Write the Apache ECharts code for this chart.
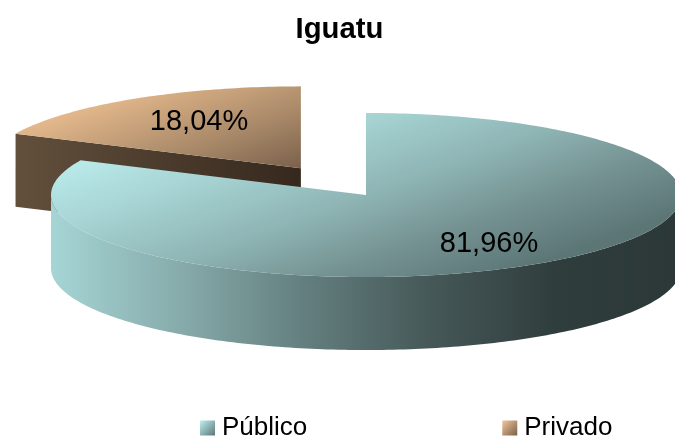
<!DOCTYPE html>
<html>
<head>
  <meta charset="utf-8">
  <title>Iguatu</title>
  <script src="https://cdn.jsdelivr.net/npm/echarts@6/dist/echarts.min.js"></script>
  <style>
    body { margin: 0; padding: 0; background: #fff; }
    #main { width: 675px; height: 438px; }
  </style>
</head>
<body>
<div id="main"></div>
<script>
  var titleText = 'Iguatu';
  var categories = ['Público', 'Privado'];
  var values = [81.96, 18.04];

  // 饼图的透视参数
  var cx = 366, cy = 195, rx = 315, ry = 82, depth = 73;
  var explode = [0, 0.385];
  var labelOffset = [[123, 49], [-167, -73]];

  function linear(x, y, x2, y2, stops, global) {
    return {
      type: 'linear', x: x, y: y, x2: x2, y2: y2, global: !!global,
      colorStops: stops.map(function (c, i) {
        return {offset: i / (stops.length - 1), color: c};
      })
    };
  }

  // 顶面用画布坐标的渐变，方向不随图形外框变形
  var topColors = [
    linear(80, 165, 166, 400, ['#b8e8e8', '#a4d0d0', '#8fb5b5', '#759292', '#5c7676'], true),
    linear(60, 115, 112, 255, ['#e4b88c', '#ab8b6a', '#6e5644'], true)
  ];
  var wallColors = [
    linear(0, 0, 1, 0, ['#a6d5d5', '#88acac', '#647f7f', '#465858', '#303d3d', '#2c3838']),
    linear(0, 0, 1, 0, ['#62503c', '#36281e'])
  ];
  var legendColors = [
    linear(0, 0, 1, 1, ['#bff0f0', '#5c7676']),
    linear(0, 0, 1, 1, ['#f2c79c', '#7a6048'])
  ];

  var total = values.reduce(function (a, b) { return a + b; }, 0);

  function makeSlice(index) {
    var startDeg = 0;
    for (var i = 0; i < index; i++) {
      startDeg += values[i] / total * 360;
    }
    var endDeg = startDeg + values[index] / total * 360;
    var midRad = (startDeg + endDeg) / 2 * Math.PI / 180;
    var ox = cx + Math.sin(midRad) * rx * explode[index];
    var oy = cy - Math.cos(midRad) * ry * explode[index];

    function rim(deg, dy) {
      var r = deg * Math.PI / 180;
      return [ox + Math.sin(r) * rx, oy - Math.cos(r) * ry + (dy || 0)];
    }

    function arc(from, to, dy) {
      var pts = [];
      for (var d = from; d < to; d += 1) {
        pts.push(rim(d, dy));
      }
      pts.push(rim(to, dy));
      return pts;
    }

    function polygon(points, fill) {
      return {type: 'polygon', shape: {points: points}, style: {fill: fill}};
    }

    function cutFace(deg) {
      var p = rim(deg);
      return polygon([[ox, oy], p, [p[0], p[1] + depth], [ox, oy + depth]], wallColors[index]);
    }

    return function (params, api) {
      var children = [];
      var sinStart = Math.sin(startDeg * Math.PI / 180);
      var sinEnd = Math.sin(endDeg * Math.PI / 180);
      if (sinStart < -0.001) {
        children.push(cutFace(startDeg));
      }
      if (sinEnd > 0.001) {
        children.push(cutFace(endDeg));
      }
      // 外侧面只画朝向观察者的 90°~270° 部分
      var wallFrom = Math.max(startDeg, 90);
      var wallTo = Math.min(endDeg, 270);
      if (wallFrom < wallTo) {
        var upper = arc(wallFrom, wallTo, 0);
        var lower = arc(wallFrom, wallTo, depth).reverse();
        children.push(polygon(upper.concat(lower), wallColors[index]));
      }
      // 顶面
      children.push(polygon([[ox, oy]].concat(arc(startDeg, endDeg, 0)), topColors[index]));
      children.push({
        type: 'text',
        z2: 10,
        style: {
          text: api.value(0).toFixed(2).replace('.', ',') + '%',
          x: cx + labelOffset[index][0],
          y: cy + labelOffset[index][1],
          align: 'center',
          verticalAlign: 'middle',
          fill: '#000',
          font: '29px "Liberation Sans", Arial, sans-serif'
        }
      });
      return {type: 'group', children: children};
    };
  }

  var chart = echarts.init(document.getElementById('main'));
  chart.setOption({
    animation: false,
    title: {
      text: titleText,
      left: 290.5,
      top: 10,
      textStyle: {
        color: '#000',
        fontSize: 29.3,
        fontWeight: 'bold',
        fontFamily: '"Liberation Sans", Arial, sans-serif'
      }
    },
    legend: {
      left: 200,
      top: 415,
      padding: 0,
      itemWidth: 15,
      itemHeight: 15,
      itemGap: 195,
      icon: 'rect',
      textStyle: {
        color: '#000',
        fontSize: 26,
        padding: [0, 0, 0, 2],
        fontFamily: '"Liberation Sans", Arial, sans-serif'
      },
      data: categories.map(function (name, i) {
        return {name: name, itemStyle: {color: legendColors[i]}};
      })
    },
    // 先画 Privado，让 Público 压在上面
    series: [1, 0].map(function (i) {
      return {
        type: 'custom',
        name: categories[i],
        coordinateSystem: 'none',
        silent: true,
        renderItem: makeSlice(i),
        data: [[values[i]]]
      };
    })
  });
</script>
</body>
</html>
